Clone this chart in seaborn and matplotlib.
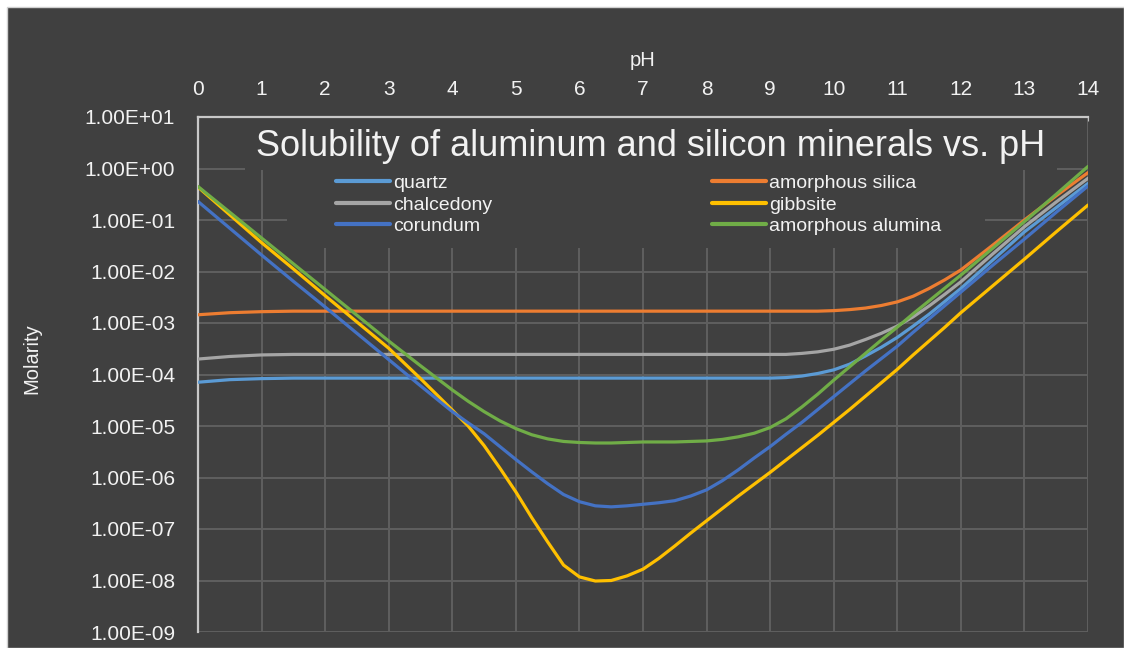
import numpy as np
import pandas as pd
import matplotlib
matplotlib.use("Agg")
import matplotlib.pyplot as plt
from matplotlib.patches import Rectangle
from matplotlib.ticker import FixedLocator, FuncFormatter, NullLocator
import seaborn as sns

# pH grid and log10(molarity)
ph = [0, 0.5, 1, 1.5, 2, 2.5, 3, 3.5, 4, 4.25, 4.5, 4.75, 5, 5.25, 5.5, 5.75, 6, 6.25, 6.5, 6.75,
      7, 7.25, 7.5, 7.75, 8, 8.25, 8.5, 8.75, 9, 9.25, 9.5, 9.75, 10, 10.25, 10.5, 10.75,
      11, 11.25, 11.5, 11.75, 12, 12.5, 13, 13.5, 14]

quartz = [-4.15, -4.10, -4.08, -4.07, -4.07, -4.07, -4.07, -4.07, -4.07, -4.07, -4.07, -4.07, -4.07, -4.07,
          -4.07, -4.07, -4.07, -4.07, -4.07, -4.07, -4.07, -4.07, -4.07, -4.07, -4.07, -4.07, -4.07, -4.07,
          -4.07, -4.06, -4.03, -3.98, -3.91, -3.80, -3.64, -3.47, -3.28, -3.06, -2.83, -2.58, -2.33,
          -1.78, -1.23, -0.76, -0.29]
amorphous_silica = [-2.84, -2.80, -2.78, -2.77, -2.77, -2.77, -2.77, -2.77, -2.77, -2.77, -2.77, -2.77,
                    -2.77, -2.77, -2.77, -2.77, -2.77, -2.77, -2.77, -2.77, -2.77, -2.77, -2.77, -2.77,
                    -2.77, -2.77, -2.77, -2.77, -2.77, -2.77, -2.77, -2.77, -2.76, -2.74, -2.71, -2.66,
                    -2.59, -2.48, -2.33, -2.16, -1.97, -1.49, -1.00, -0.53, -0.08]
chalcedony = [-3.70, -3.65, -3.62, -3.61, -3.61, -3.61, -3.61, -3.61, -3.61, -3.61, -3.61, -3.61, -3.61,
              -3.61, -3.61, -3.61, -3.61, -3.61, -3.61, -3.61, -3.61, -3.61, -3.61, -3.61, -3.61, -3.61,
              -3.61, -3.61, -3.61, -3.61, -3.59, -3.56, -3.51, -3.43, -3.32, -3.20, -3.06, -2.88, -2.67,
              -2.44, -2.20, -1.66, -1.13, -0.65, -0.19]
gibbsite = [-0.36, -0.90, -1.44, -1.95, -2.47, -2.98, -3.49, -4.08, -4.69, -5.00, -5.38, -5.82, -6.28,
            -6.78, -7.25, -7.70, -7.93, -8.01, -8.00, -7.91, -7.78, -7.57, -7.33, -7.08, -6.84, -6.60,
            -6.36, -6.13, -5.90, -5.66, -5.42, -5.18, -4.93, -4.68, -4.42, -4.16, -3.90, -3.62, -3.35,
            -3.08, -2.80, -2.28, -1.76, -1.23, -0.71]
corundum = [-0.64, -1.16, -1.68, -2.19, -2.69, -3.20, -3.71, -4.22, -4.72, -4.94, -5.15, -5.40, -5.65,
            -5.89, -6.12, -6.33, -6.47, -6.55, -6.57, -6.55, -6.52, -6.49, -6.45, -6.36, -6.24, -6.06,
            -5.85, -5.62, -5.40, -5.16, -4.93, -4.68, -4.43, -4.18, -3.93, -3.69, -3.45, -3.18, -2.92,
            -2.66, -2.40, -1.88, -1.37, -0.85, -0.34]
amorphous_alumina = [-0.35, -0.85, -1.35, -1.85, -2.35, -2.85, -3.35, -3.83, -4.30, -4.52, -4.72, -4.90,
                     -5.05, -5.17, -5.25, -5.30, -5.32, -5.33, -5.33, -5.32, -5.31, -5.31, -5.31, -5.30,
                     -5.29, -5.26, -5.21, -5.14, -5.03, -4.86, -4.63, -4.38, -4.11, -3.85, -3.59, -3.33,
                     -3.08, -2.82, -2.57, -2.32, -2.07, -1.55, -1.03, -0.50, 0.04]

series_order = ["quartz", "amorphous silica", "chalcedony", "gibbsite", "corundum", "amorphous alumina"]
legend_order = ["quartz", "chalcedony", "corundum", "amorphous silica", "gibbsite", "amorphous alumina"]
colors = {"quartz": "#5B9BD5", "amorphous silica": "#ED7D31", "chalcedony": "#A5A5A5",
          "gibbsite": "#FFC000", "corundum": "#4472C4", "amorphous alumina": "#70AD47"}
y_exponents = list(range(-9, 2))
x_ticks = list(range(0, 15))

logs = {"quartz": quartz, "amorphous silica": amorphous_silica, "chalcedony": chalcedony,
        "gibbsite": gibbsite, "corundum": corundum, "amorphous alumina": amorphous_alumina}
df = pd.concat([pd.DataFrame({"pH": ph, "Molarity": 10.0 ** np.array(v), "mineral": k})
                for k, v in logs.items()], ignore_index=True)

BG = "#404040"
GRID = "#5f5f5f"
TXT = "#f2f2f2"

sns.set_style("dark", {"axes.facecolor": BG, "grid.color": GRID})
plt.rcParams["font.family"] = ["Liberation Sans", "DejaVu Sans"]

fig = plt.figure(figsize=(11.24, 6.48), dpi=100, facecolor="white")
# dark chart area with a thin white margin at top/left
fig.patches.append(Rectangle((7 / 1124, 0), 1 - 7 / 1124, 1 - 7 / 648, transform=fig.transFigure,
                             facecolor=BG, edgecolor="#d0d0d0", linewidth=1, zorder=-5))

ax = fig.add_axes([198 / 1124, 1 - 632 / 648, 890 / 1124, 515 / 648])
ax.set_facecolor(BG)

sns.lineplot(data=df, x="pH", y="Molarity", hue="mineral", hue_order=series_order,
             palette=colors, linewidth=2.3, legend=False, ax=ax, zorder=3)

ax.set_yscale("log")
ax.set_ylim(1e-9, 10)
ax.set_xlim(0, 14)
ax.yaxis.set_major_locator(FixedLocator([10.0 ** e for e in y_exponents]))
ax.yaxis.set_minor_locator(NullLocator())
ax.yaxis.set_major_formatter(FuncFormatter(lambda v, p: "{:.2E}".format(v)))
ax.set_xticks(x_ticks)

ax.grid(True, color=GRID, linewidth=1.4)
ax.set_axisbelow(True)

ax.xaxis.tick_top()
ax.xaxis.set_label_position("top")
ax.tick_params(axis="x", which="both", top=True, bottom=False, direction="in", length=3,
               color="#bfbfbf", labelsize=15, labelcolor=TXT, pad=13)
ax.tick_params(axis="y", left=False, labelsize=15, labelcolor=TXT, pad=13)
ax.set_xlabel("pH", fontsize=14.5, color=TXT, labelpad=10)
ax.set_ylabel("Molarity", fontsize=14.5, color=TXT)
ax.yaxis.set_label_coords(-0.176, 0.53)

for side in ["right", "bottom"]:
    ax.spines[side].set_visible(False)
for side in ["left", "top"]:
    ax.spines[side].set_visible(True)
    ax.spines[side].set_color("#c8c8c8")
    ax.spines[side].set_linewidth(1.6)

# title and legend boxes hide the gridlines behind them
ax.add_patch(Rectangle((0.053, 0.897), 0.912, 0.103, transform=ax.transAxes,
                       facecolor=BG, edgecolor="none", zorder=1))
ax.add_patch(Rectangle((0.100, 0.7456), 0.784, 0.152, transform=ax.transAxes,
                       facecolor=BG, edgecolor="none", zorder=1))

ax.text(0.509, 0.942, "Solubility of aluminum and silicon minerals vs. pH", transform=ax.transAxes,
        ha="center", va="center", fontsize=26, color=TXT, zorder=4)

hmap = dict(zip(series_order, ax.get_lines()))
leg = ax.legend([hmap[n] for n in legend_order], legend_order, ncol=2, frameon=False,
                loc="upper left", bbox_to_anchor=(0.135, 0.9225), fontsize=14,
                handlelength=2.8, handletextpad=0.15, columnspacing=11.3,
                labelspacing=0.2, labelcolor=TXT)
for t in leg.get_lines():
    t.set_linewidth(3)

fig.savefig("out.png", dpi=100, facecolor=fig.get_facecolor())
